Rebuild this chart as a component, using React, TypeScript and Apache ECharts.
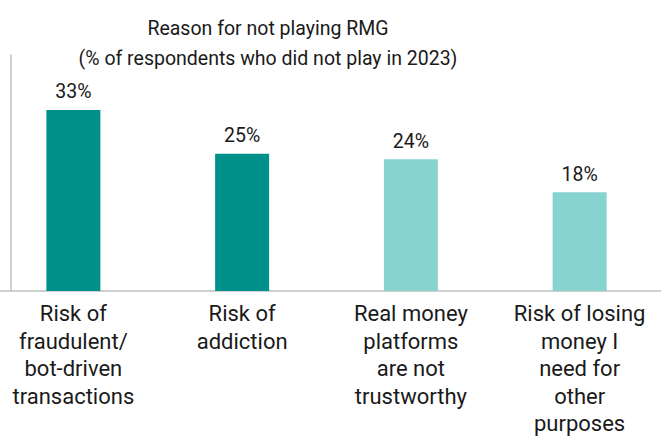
import React, { useEffect, useRef } from "react";
import * as echarts from "echarts";

const categories = [
  "Risk of\nfraudulent/\nbot-driven\ntransactions",
  "Risk of\naddiction",
  "Real money\nplatforms\nare not\ntrustworthy",
  "Risk of losing\nmoney I\nneed for\nother\npurposes",
];
const values = [33, 25, 24, 18];
const barColors = ["#00928A", "#00928A", "#86D3D0", "#86D3D0"];
const titleLines = ["Reason for not playing RMG", "(% of respondents who did not play in 2023)"];

const FONT = "Roboto, 'Noto Sans', sans-serif";

export default function App() {
  const ref = useRef<HTMLDivElement>(null);
  useEffect(() => {
    if (!ref.current) return;
    const chart = echarts.init(ref.current, null, { renderer: "svg" });
    chart.setOption({
      animation: false,
      backgroundColor: "#ffffff",
      title: {
        text: titleLines.join("\n"),
        left: 263,
        textAlign: "center",
        top: 8,
        textStyle: {
          fontFamily: FONT,
          fontSize: 19.5,
          fontWeight: "normal",
          color: "#1a1a1a",
          lineHeight: 30,
        },
      },
      grid: { left: -11, right: -3, top: 55, bottom: 148, containLabel: false, outerBoundsMode: "none" },
      xAxis: {
        type: "category",
        data: categories,
        axisLine: { show: true, lineStyle: { color: "#BFBFBF", width: 1.5 } },
        axisTick: { show: false },
        axisLabel: {
          interval: 0,
          margin: 9,
          fontFamily: FONT,
          fontSize: 22,
          lineHeight: 27.5,
          color: "#1a1a1a",
          verticalAlign: "top",
        },
      },
      yAxis: {
        type: "value",
        min: 0,
        max: 43,
        offset: -22,
        axisLine: { show: true, lineStyle: { color: "#BFBFBF", width: 1.5 } },
        axisTick: { show: false },
        axisLabel: { show: false },
        splitLine: { show: false },
      },
      series: [
        {
          type: "bar",
          barWidth: 54,
          data: values.map((v, i) => ({ value: v, itemStyle: { color: barColors[i] } })),
          label: {
            show: true,
            position: "top",
            distance: 8,
            formatter: "{c}%",
            fontFamily: FONT,
            fontSize: 19.5,
            color: "#1a1a1a",
          },
        },
      ],
    });
    return () => chart.dispose();
  }, []);
  return <div ref={ref} style={{ width: 661, height: 439, position: "absolute", left: 0, top: 0 }} />;
}
